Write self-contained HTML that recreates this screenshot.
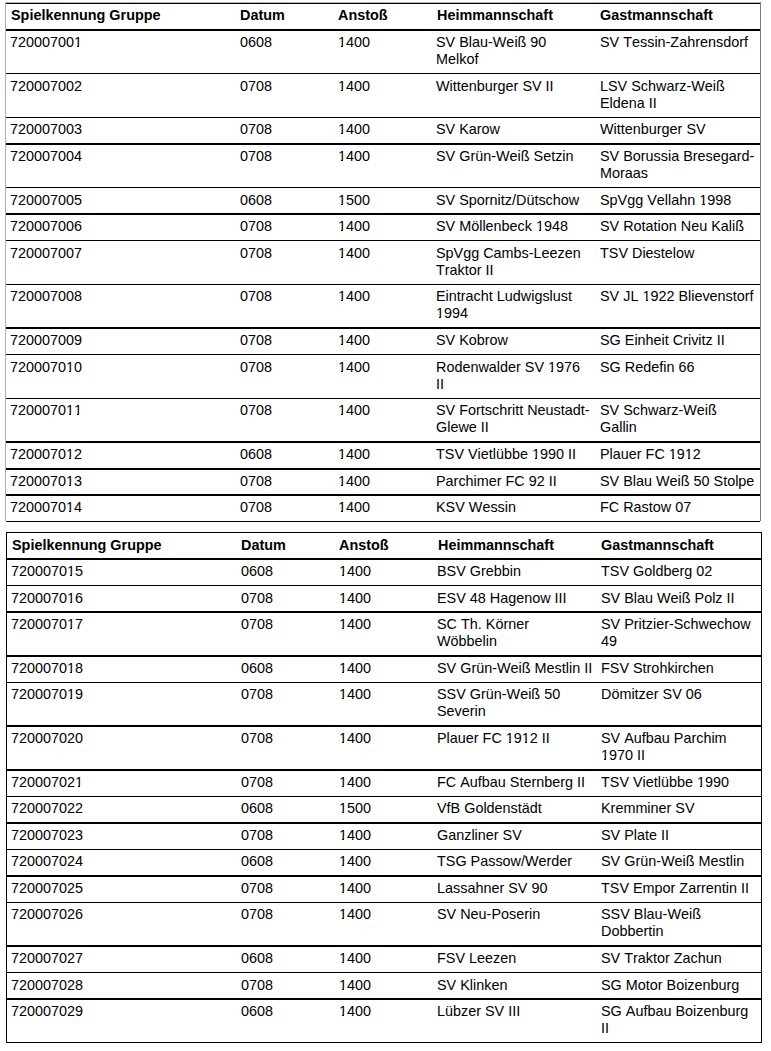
<!DOCTYPE html>
<html><head><meta charset="utf-8"><title>Spielplan</title>
<style>
html,body{margin:0;padding:0;background:#fff;}
body{width:771px;height:1051px;position:relative;overflow:hidden;font-family:"Liberation Sans",sans-serif;font-size:14.4px;line-height:17px;color:#000;font-kerning:none;}
.t{position:absolute;white-space:nowrap;}
.b{font-weight:bold;}
.h{position:absolute;background:#000;}
.v{position:absolute;}
i{position:absolute;height:1px;background:#fff;}
</style></head><body>

<div class="v" style="left:5px;top:2px;width:756px;height:1px;background:#b0b0b0"></div>
<div class="v" style="left:5px;top:2px;width:1px;height:519px;background:#b0b0b0"></div>
<div class="v" style="left:760px;top:2px;width:1px;height:519px;background:#7a7a7a"></div>
<div class="h" style="left:6px;top:3px;width:754px;height:1px"></div>
<div class="h" style="left:6px;top:29px;width:754px;height:2px"></div>
<div class="h" style="left:6px;top:73px;width:754px;height:1px"></div>
<div class="h" style="left:6px;top:117px;width:754px;height:1px"></div>
<div class="h" style="left:6px;top:143px;width:754px;height:2px"></div>
<div class="h" style="left:6px;top:187px;width:754px;height:1px"></div>
<div class="h" style="left:6px;top:213px;width:754px;height:2px"></div>
<div class="h" style="left:6px;top:240px;width:754px;height:1px"></div>
<div class="h" style="left:6px;top:284px;width:754px;height:1px"></div>
<div class="h" style="left:6px;top:327px;width:754px;height:2px"></div>
<div class="h" style="left:6px;top:354px;width:754px;height:1px"></div>
<div class="h" style="left:6px;top:398px;width:754px;height:1px"></div>
<div class="h" style="left:6px;top:441px;width:754px;height:2px"></div>
<div class="h" style="left:6px;top:468px;width:754px;height:2px"></div>
<div class="h" style="left:6px;top:494px;width:754px;height:2px"></div>
<div class="h" style="left:6px;top:521px;width:754px;height:1px"></div>
<div class="t b" style="left:11px;top:7px">Spielkennung Gruppe</div>
<div class="t b" style="left:240px;top:7px">Datum</div>
<div class="t b" style="left:338px;top:7px">Anstoß</div>
<div class="t b" style="left:437px;top:7px">Heimmannschaft</div>
<div class="t b" style="left:600px;top:7px">Gastmannschaft</div>
<div class="t" style="left:10px;top:34px">720007001</div>
<div class="t" style="left:240px;top:34px">0608</div>
<div class="t" style="left:338px;top:34px">1400</div>
<div class="t" style="left:436px;top:34px">SV Blau-Weiß 90<br>Melkof</div>
<div class="t" style="left:600px;top:34px">SV Tessin-Zahrensdorf</div>
<div class="t" style="left:10px;top:78px">720007002</div>
<div class="t" style="left:240px;top:78px">0708</div>
<div class="t" style="left:338px;top:78px">1400</div>
<div class="t" style="left:436px;top:78px">Wittenburger SV II</div>
<div class="t" style="left:600px;top:78px">LSV Schwarz-Weiß<br>Eldena II</div>
<div class="t" style="left:10px;top:121px">720007003</div>
<div class="t" style="left:240px;top:121px">0708</div>
<div class="t" style="left:338px;top:121px">1400</div>
<div class="t" style="left:436px;top:121px">SV Karow</div>
<div class="t" style="left:600px;top:121px">Wittenburger SV</div>
<div class="t" style="left:10px;top:148px">720007004</div>
<div class="t" style="left:240px;top:148px">0708</div>
<div class="t" style="left:338px;top:148px">1400</div>
<div class="t" style="left:436px;top:148px">SV Grün-Weiß Setzin</div>
<div class="t" style="left:600px;top:148px">SV Borussia Bresegard-<br>Moraas</div>
<div class="t" style="left:10px;top:192px">720007005</div>
<div class="t" style="left:240px;top:192px">0608</div>
<div class="t" style="left:338px;top:192px">1500</div>
<div class="t" style="left:436px;top:192px">SV Spornitz/Dütschow</div>
<div class="t" style="left:600px;top:192px">SpVgg Vellahn 1998</div>
<div class="t" style="left:10px;top:218px">720007006</div>
<div class="t" style="left:240px;top:218px">0708</div>
<div class="t" style="left:338px;top:218px">1400</div>
<div class="t" style="left:436px;top:218px">SV Möllenbeck 1948</div>
<div class="t" style="left:600px;top:218px">SV Rotation Neu Kaliß</div>
<div class="t" style="left:10px;top:245px">720007007</div>
<div class="t" style="left:240px;top:245px">0708</div>
<div class="t" style="left:338px;top:245px">1400</div>
<div class="t" style="left:436px;top:245px">SpVgg Cambs-Leezen<br>Traktor II</div>
<div class="t" style="left:600px;top:245px">TSV Diestelow</div>
<div class="t" style="left:10px;top:288px">720007008</div>
<div class="t" style="left:240px;top:288px">0708</div>
<div class="t" style="left:338px;top:288px">1400</div>
<div class="t" style="left:436px;top:288px">Eintracht Ludwigslust<br>1994</div>
<div class="t" style="left:600px;top:288px">SV JL 1922 Blievenstorf</div>
<div class="t" style="left:10px;top:332px">720007009</div>
<div class="t" style="left:240px;top:332px">0708</div>
<div class="t" style="left:338px;top:332px">1400</div>
<div class="t" style="left:436px;top:332px">SV Kobrow</div>
<div class="t" style="left:600px;top:332px">SG Einheit Crivitz II</div>
<div class="t" style="left:10px;top:359px">720007010</div>
<div class="t" style="left:240px;top:359px">0708</div>
<div class="t" style="left:338px;top:359px">1400</div>
<div class="t" style="left:436px;top:359px">Rodenwalder SV 1976<br>II</div>
<div class="t" style="left:600px;top:359px">SG Redefin 66</div>
<div class="t" style="left:10px;top:402px">720007011</div>
<div class="t" style="left:240px;top:402px">0708</div>
<div class="t" style="left:338px;top:402px">1400</div>
<div class="t" style="left:436px;top:402px">SV Fortschritt Neustadt-<br>Glewe II</div>
<div class="t" style="left:600px;top:402px">SV Schwarz-Weiß<br>Gallin</div>
<div class="t" style="left:10px;top:446px">720007012</div>
<div class="t" style="left:240px;top:446px">0608</div>
<div class="t" style="left:338px;top:446px">1400</div>
<div class="t" style="left:436px;top:446px">TSV Vietlübbe 1990 II</div>
<div class="t" style="left:600px;top:446px">Plauer FC 1912</div>
<div class="t" style="left:10px;top:473px">720007013</div>
<div class="t" style="left:240px;top:473px">0708</div>
<div class="t" style="left:338px;top:473px">1400</div>
<div class="t" style="left:436px;top:473px">Parchimer FC 92 II</div>
<div class="t" style="left:600px;top:473px">SV Blau Weiß 50 Stolpe</div>
<div class="t" style="left:10px;top:499px">720007014</div>
<div class="t" style="left:240px;top:499px">0708</div>
<div class="t" style="left:338px;top:499px">1400</div>
<div class="t" style="left:436px;top:499px">KSV Wessin</div>
<div class="t" style="left:600px;top:499px">FC Rastow 07</div>
<div class="v" style="left:6px;top:532px;width:1px;height:511px;background:#000"></div>
<div class="v" style="left:761px;top:532px;width:1px;height:511px;background:#000"></div>
<div class="h" style="left:6px;top:532px;width:756px;height:1px"></div>
<div class="h" style="left:6px;top:558px;width:756px;height:2px"></div>
<div class="h" style="left:6px;top:585px;width:756px;height:1px"></div>
<div class="h" style="left:6px;top:611px;width:756px;height:2px"></div>
<div class="h" style="left:6px;top:655px;width:756px;height:2px"></div>
<div class="h" style="left:6px;top:682px;width:756px;height:1px"></div>
<div class="h" style="left:6px;top:725px;width:756px;height:2px"></div>
<div class="h" style="left:6px;top:769px;width:756px;height:2px"></div>
<div class="h" style="left:6px;top:796px;width:756px;height:1px"></div>
<div class="h" style="left:6px;top:822px;width:756px;height:2px"></div>
<div class="h" style="left:6px;top:849px;width:756px;height:1px"></div>
<div class="h" style="left:6px;top:875px;width:756px;height:2px"></div>
<div class="h" style="left:6px;top:902px;width:756px;height:1px"></div>
<div class="h" style="left:6px;top:945px;width:756px;height:2px"></div>
<div class="h" style="left:6px;top:972px;width:756px;height:1px"></div>
<div class="h" style="left:6px;top:998px;width:756px;height:2px"></div>
<div class="h" style="left:6px;top:1042px;width:756px;height:1px"></div>
<div class="t b" style="left:12px;top:537px">Spielkennung Gruppe</div>
<div class="t b" style="left:241px;top:537px">Datum</div>
<div class="t b" style="left:339px;top:537px">Anstoß</div>
<div class="t b" style="left:438px;top:537px">Heimmannschaft</div>
<div class="t b" style="left:601px;top:537px">Gastmannschaft</div>
<div class="t" style="left:11px;top:563px">720007015</div>
<div class="t" style="left:241px;top:563px">0608</div>
<div class="t" style="left:339px;top:563px">1400</div>
<div class="t" style="left:437px;top:563px">BSV Grebbin</div>
<div class="t" style="left:601px;top:563px">TSV Goldberg 02</div>
<div class="t" style="left:11px;top:590px">720007016</div>
<div class="t" style="left:241px;top:590px">0708</div>
<div class="t" style="left:339px;top:590px">1400</div>
<div class="t" style="left:437px;top:590px">ESV 48 Hagenow III</div>
<div class="t" style="left:601px;top:590px">SV Blau Weiß Polz II</div>
<div class="t" style="left:11px;top:616px">720007017</div>
<div class="t" style="left:241px;top:616px">0708</div>
<div class="t" style="left:339px;top:616px">1400</div>
<div class="t" style="left:437px;top:616px">SC Th. Körner<br>Wöbbelin</div>
<div class="t" style="left:601px;top:616px">SV Pritzier-Schwechow<br>49</div>
<div class="t" style="left:11px;top:660px">720007018</div>
<div class="t" style="left:241px;top:660px">0608</div>
<div class="t" style="left:339px;top:660px">1400</div>
<div class="t" style="left:437px;top:660px">SV Grün-Weiß Mestlin II</div>
<div class="t" style="left:601px;top:660px">FSV Strohkirchen</div>
<div class="t" style="left:11px;top:686px">720007019</div>
<div class="t" style="left:241px;top:686px">0708</div>
<div class="t" style="left:339px;top:686px">1400</div>
<div class="t" style="left:437px;top:686px">SSV Grün-Weiß 50<br>Severin</div>
<div class="t" style="left:601px;top:686px">Dömitzer SV 06</div>
<div class="t" style="left:11px;top:730px">720007020</div>
<div class="t" style="left:241px;top:730px">0708</div>
<div class="t" style="left:339px;top:730px">1400</div>
<div class="t" style="left:437px;top:730px">Plauer FC 1912 II</div>
<div class="t" style="left:601px;top:730px">SV Aufbau Parchim<br>1970 II</div>
<div class="t" style="left:11px;top:774px">720007021</div>
<div class="t" style="left:241px;top:774px">0708</div>
<div class="t" style="left:339px;top:774px">1400</div>
<div class="t" style="left:437px;top:774px">FC Aufbau Sternberg II</div>
<div class="t" style="left:601px;top:774px">TSV Vietlübbe 1990</div>
<div class="t" style="left:11px;top:800px">720007022</div>
<div class="t" style="left:241px;top:800px">0608</div>
<div class="t" style="left:339px;top:800px">1500</div>
<div class="t" style="left:437px;top:800px">VfB Goldenstädt</div>
<div class="t" style="left:601px;top:800px">Kremminer SV</div>
<div class="t" style="left:11px;top:827px">720007023</div>
<div class="t" style="left:241px;top:827px">0708</div>
<div class="t" style="left:339px;top:827px">1400</div>
<div class="t" style="left:437px;top:827px">Ganzliner SV</div>
<div class="t" style="left:601px;top:827px">SV Plate II</div>
<div class="t" style="left:11px;top:853px">720007024</div>
<div class="t" style="left:241px;top:853px">0608</div>
<div class="t" style="left:339px;top:853px">1400</div>
<div class="t" style="left:437px;top:853px">TSG Passow/Werder</div>
<div class="t" style="left:601px;top:853px">SV Grün-Weiß Mestlin</div>
<div class="t" style="left:11px;top:880px">720007025</div>
<div class="t" style="left:241px;top:880px">0708</div>
<div class="t" style="left:339px;top:880px">1400</div>
<div class="t" style="left:437px;top:880px">Lassahner SV 90</div>
<div class="t" style="left:601px;top:880px">TSV Empor Zarrentin II</div>
<div class="t" style="left:11px;top:906px">720007026</div>
<div class="t" style="left:241px;top:906px">0708</div>
<div class="t" style="left:339px;top:906px">1400</div>
<div class="t" style="left:437px;top:906px">SV Neu-Poserin</div>
<div class="t" style="left:601px;top:906px">SSV Blau-Weiß<br>Dobbertin</div>
<div class="t" style="left:11px;top:950px">720007027</div>
<div class="t" style="left:241px;top:950px">0608</div>
<div class="t" style="left:339px;top:950px">1400</div>
<div class="t" style="left:437px;top:950px">FSV Leezen</div>
<div class="t" style="left:601px;top:950px">SV Traktor Zachun</div>
<div class="t" style="left:11px;top:977px">720007028</div>
<div class="t" style="left:241px;top:977px">0708</div>
<div class="t" style="left:339px;top:977px">1400</div>
<div class="t" style="left:437px;top:977px">SV Klinken</div>
<div class="t" style="left:601px;top:977px">SG Motor Boizenburg</div>
<div class="t" style="left:11px;top:1003px">720007029</div>
<div class="t" style="left:241px;top:1003px">0608</div>
<div class="t" style="left:339px;top:1003px">1400</div>
<div class="t" style="left:437px;top:1003px">Lübzer SV III</div>
<div class="t" style="left:601px;top:1003px">SG Aufbau Boizenburg<br>II</div>
<i style="left:74px;top:46px;width:3px"></i><i style="left:79px;top:46px;width:3px"></i>
<i style="left:338px;top:46px;width:3px"></i><i style="left:343px;top:46px;width:3px"></i>
<i style="left:338px;top:90px;width:3px"></i><i style="left:343px;top:90px;width:3px"></i>
<i style="left:338px;top:133px;width:3px"></i><i style="left:343px;top:133px;width:3px"></i>
<i style="left:338px;top:160px;width:3px"></i><i style="left:343px;top:160px;width:3px"></i>
<i style="left:338px;top:204px;width:3px"></i><i style="left:343px;top:204px;width:3px"></i>
<i style="left:699px;top:204px;width:3px"></i><i style="left:705px;top:204px;width:2px"></i>
<i style="left:338px;top:230px;width:3px"></i><i style="left:343px;top:230px;width:3px"></i>
<i style="left:536px;top:230px;width:3px"></i><i style="left:541px;top:230px;width:3px"></i>
<i style="left:338px;top:257px;width:3px"></i><i style="left:343px;top:257px;width:3px"></i>
<i style="left:338px;top:300px;width:3px"></i><i style="left:343px;top:300px;width:3px"></i>
<i style="left:436px;top:317px;width:3px"></i><i style="left:441px;top:317px;width:3px"></i>
<i style="left:642px;top:300px;width:4px"></i><i style="left:648px;top:300px;width:3px"></i>
<i style="left:338px;top:344px;width:3px"></i><i style="left:343px;top:344px;width:3px"></i>
<i style="left:66px;top:371px;width:3px"></i><i style="left:71px;top:371px;width:3px"></i>
<i style="left:338px;top:371px;width:3px"></i><i style="left:343px;top:371px;width:3px"></i>
<i style="left:548px;top:371px;width:3px"></i><i style="left:553px;top:371px;width:3px"></i>
<i style="left:66px;top:414px;width:3px"></i><i style="left:71px;top:414px;width:3px"></i>
<i style="left:74px;top:414px;width:3px"></i><i style="left:79px;top:414px;width:3px"></i>
<i style="left:338px;top:414px;width:3px"></i><i style="left:343px;top:414px;width:3px"></i>
<i style="left:66px;top:458px;width:3px"></i><i style="left:71px;top:458px;width:3px"></i>
<i style="left:338px;top:458px;width:3px"></i><i style="left:343px;top:458px;width:3px"></i>
<i style="left:532px;top:458px;width:3px"></i><i style="left:537px;top:458px;width:3px"></i>
<i style="left:668px;top:458px;width:4px"></i><i style="left:674px;top:458px;width:3px"></i>
<i style="left:684px;top:458px;width:4px"></i><i style="left:690px;top:458px;width:3px"></i>
<i style="left:66px;top:485px;width:3px"></i><i style="left:71px;top:485px;width:3px"></i>
<i style="left:338px;top:485px;width:3px"></i><i style="left:343px;top:485px;width:3px"></i>
<i style="left:66px;top:511px;width:3px"></i><i style="left:71px;top:511px;width:3px"></i>
<i style="left:338px;top:511px;width:3px"></i><i style="left:343px;top:511px;width:3px"></i>
<i style="left:67px;top:575px;width:3px"></i><i style="left:72px;top:575px;width:3px"></i>
<i style="left:339px;top:575px;width:3px"></i><i style="left:344px;top:575px;width:3px"></i>
<i style="left:67px;top:602px;width:3px"></i><i style="left:72px;top:602px;width:3px"></i>
<i style="left:339px;top:602px;width:3px"></i><i style="left:344px;top:602px;width:3px"></i>
<i style="left:67px;top:628px;width:3px"></i><i style="left:72px;top:628px;width:3px"></i>
<i style="left:339px;top:628px;width:3px"></i><i style="left:344px;top:628px;width:3px"></i>
<i style="left:67px;top:672px;width:3px"></i><i style="left:72px;top:672px;width:3px"></i>
<i style="left:339px;top:672px;width:3px"></i><i style="left:344px;top:672px;width:3px"></i>
<i style="left:67px;top:698px;width:3px"></i><i style="left:72px;top:698px;width:3px"></i>
<i style="left:339px;top:698px;width:3px"></i><i style="left:344px;top:698px;width:3px"></i>
<i style="left:339px;top:742px;width:3px"></i><i style="left:344px;top:742px;width:3px"></i>
<i style="left:505px;top:742px;width:4px"></i><i style="left:511px;top:742px;width:3px"></i>
<i style="left:521px;top:742px;width:4px"></i><i style="left:527px;top:742px;width:3px"></i>
<i style="left:601px;top:759px;width:3px"></i><i style="left:606px;top:759px;width:3px"></i>
<i style="left:75px;top:786px;width:3px"></i><i style="left:80px;top:786px;width:3px"></i>
<i style="left:339px;top:786px;width:3px"></i><i style="left:344px;top:786px;width:3px"></i>
<i style="left:697px;top:786px;width:3px"></i><i style="left:702px;top:786px;width:3px"></i>
<i style="left:339px;top:812px;width:3px"></i><i style="left:344px;top:812px;width:3px"></i>
<i style="left:339px;top:839px;width:3px"></i><i style="left:344px;top:839px;width:3px"></i>
<i style="left:339px;top:865px;width:3px"></i><i style="left:344px;top:865px;width:3px"></i>
<i style="left:339px;top:892px;width:3px"></i><i style="left:344px;top:892px;width:3px"></i>
<i style="left:339px;top:918px;width:3px"></i><i style="left:344px;top:918px;width:3px"></i>
<i style="left:339px;top:962px;width:3px"></i><i style="left:344px;top:962px;width:3px"></i>
<i style="left:339px;top:989px;width:3px"></i><i style="left:344px;top:989px;width:3px"></i>
<i style="left:339px;top:1015px;width:3px"></i><i style="left:344px;top:1015px;width:3px"></i>
</body></html>
